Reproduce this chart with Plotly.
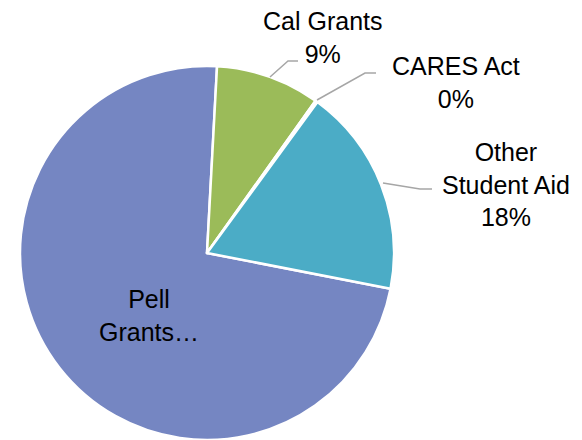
import plotly.graph_objects as go

W, H = 582, 440

LABELS = ["Pell Grants", "Cal Grants", "CARES Act", "Other Student Aid"]
VALUES = [72.8, 9.0, 0.2, 18.0]
COLORS = ["#7586C2", "#9BBB59", "#8064A2", "#4BACC6"]

# label text shown on chart (Pell label is truncated in the original)
LABEL_TEXT = ["Pell<br>Grants…", "Cal Grants<br>{pct}", "CARES Act<br>{pct}", "Other<br>Student Aid<br>{pct}"]
LABEL_POS = [(149, 315), (322, 37), (456, 82), (506, 184)]  # pixel centres
LEADERS = [
    None,
    [(270, 77), (288, 61), (298, 61)],
    [(317, 100), (365, 73), (376, 73)],
    [(383, 183), (420, 189), (432, 189)],
]

FONT = "Liberation Sans, Arial, sans-serif"


def px(x, y):
    return x / W, 1 - y / H


cx, cy, r = 207, 253, 187

fig = go.Figure(
    go.Pie(
        labels=LABELS,
        values=VALUES,
        sort=False,
        direction="clockwise",
        rotation=101,
        marker=dict(colors=COLORS, line=dict(color="white", width=2.5)),
        textinfo="none",
        hoverinfo="label+percent",
        domain=dict(x=[(cx - r) / W, (cx + r) / W], y=[0, 2 * r / H]),
    )
)

total = sum(VALUES)
for lab, val, (x, y), lead in zip(LABEL_TEXT, VALUES, LABEL_POS, LEADERS):
    pct = f"{round(100 * val / total)}%"
    ax, ay = px(x, y)
    fig.add_annotation(
        x=ax, y=ay, xref="paper", yref="paper", showarrow=False,
        xanchor="center", yanchor="middle",
        text=lab.format(pct=pct), align="center",
        font=dict(family=FONT, size=25, color="black"),
    )
    if lead:
        path = "M " + " L ".join(f"{px(a, b)[0]},{px(a, b)[1]}" for a, b in lead)
        fig.add_shape(type="path", path=path, xref="paper", yref="paper",
                      line=dict(color="#A6A6A6", width=1.5))

fig.update_layout(
    width=W, height=H,
    margin=dict(l=0, r=0, t=0, b=0),
    showlegend=False,
    paper_bgcolor="white",
    plot_bgcolor="white",
)
fig.write_html("out.html", config={"displayModeBar": False},
               post_script="document.body.style.margin='0';")
